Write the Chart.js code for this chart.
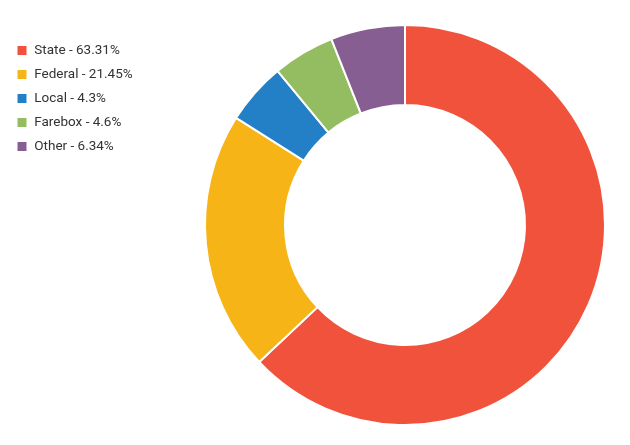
<!DOCTYPE html>
<html>
<head>
<meta charset="utf-8">
<script src="https://cdn.jsdelivr.net/npm/chart.js@4/dist/chart.umd.min.js"></script>
<style>
  html, body { margin: 0; padding: 0; background: #fff; }
  #wrap { width: 630px; height: 445px; position: relative; }
</style>
</head>
<body>
<div id="wrap"><canvas id="funding-chart"></canvas></div>
<script>
var categories = ['State', 'Federal', 'Local', 'Farebox', 'Other'];
// percentages as printed in the legend
var shareLabels = ['63.31%', '21.45%', '4.3%', '4.6%', '6.34%'];
// slice sizes as drawn in the ring
var sliceValues = [63, 21, 5, 5, 6];
var sliceColors = ['#F1523C', '#F7B416', '#2380C6', '#94BD62', '#875E92'];

var fundingChart;

// legend gets a fixed width so the ring sits where it does in the picture
var legendWidth = {
  id: 'legendWidth',
  beforeLayout: function (chart) {
    var lg = chart.legend;
    if (lg && !lg._fixed) {
      var fit = lg.fit;
      lg.fit = function () {
        fit.call(this);
        this.width = 174;
      };
      lg._fixed = true;
    }
  }
};

function funding() {
  var ctx = document.getElementById('funding-chart').getContext('2d');

  var data = {
    labels: categories.map(function (c, i) { return c + ' - ' + shareLabels[i]; }),
    datasets: [
      {
        label: 'Funding share',
        data: sliceValues,
        backgroundColor: sliceColors,
        borderColor: '#ffffff',
        borderWidth: 2
      }
    ]
  };

  var options = {
    responsive: true,
    maintainAspectRatio: false,
    animation: false,
    cutout: '60%',
    layout: {
      padding: { left: 6, right: 0, top: 24, bottom: 19 }
    },
    plugins: {
      tooltip: { enabled: false },
      legend: {
        position: 'left',
        align: 'start',
        title: {
          display: true,
          text: ' ',
          padding: 0,
          font: { family: 'Roboto', size: 9.25, lineHeight: 1 }
        },
        labels: {
          boxWidth: 11,
          boxHeight: 11,
          padding: 10.5,
          color: '#333333',
          font: { family: 'Roboto', size: 13.5 }
        }
      }
    }
  };

  fundingChart = new Chart(ctx, { type: 'doughnut', data: data, options: options, plugins: [legendWidth] });
}

funding();
</script>
</body>
</html>
